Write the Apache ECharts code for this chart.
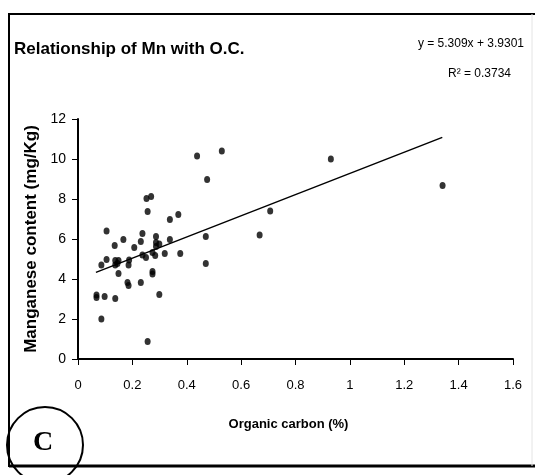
<!DOCTYPE html>
<html>
<head>
<meta charset="utf-8">
<script src="https://cdn.jsdelivr.net/npm/echarts@6/dist/echarts.min.js"></script>
<style>
  html, body { margin: 0; padding: 0; background: #fff; }
  #chart { width: 535px; height: 475px; }
</style>
</head>
<body>
<div id="chart"></div>
<script>
// Organic carbon (%) and manganese (mg/Kg)
const ocValues = [
    0.438, 0.529, 0.475, 0.252, 0.269, 0.256, 0.369, 0.338, 0.707, 0.668,
    0.105, 0.470, 0.167, 0.237, 0.231, 0.287, 0.135, 0.207, 0.287, 0.299,
    0.287, 0.338, 0.319, 0.376, 0.274, 0.284, 0.250, 0.237, 0.105, 0.137,
    0.149, 0.188, 0.086, 0.137, 0.186, 0.145, 0.149, 0.274, 0.274, 0.470,
    0.182, 0.186, 0.231, 0.068, 0.068, 0.098, 0.137, 0.299, 0.086, 0.256,
    0.930, 1.341
];
const mnValues = [
    10.15, 10.4, 8.98, 8.03, 8.12, 7.38, 7.22, 6.98, 7.4, 6.2,
    6.4, 6.12, 5.97, 6.28, 5.87, 6.12, 5.67, 5.58, 5.82, 5.75,
    5.62, 5.98, 5.28, 5.28, 5.32, 5.17, 5.08, 5.2, 4.98, 4.92,
    4.92, 4.95, 4.7, 4.7, 4.7, 4.78, 4.28, 4.37, 4.25, 4.78,
    3.82, 3.67, 3.82, 3.2, 3.08, 3.12, 3.02, 3.23, 2.0, 0.87,
    10.0, 8.67
];

// linear trendline end points
const trendX = [0.066, 1.34];
const trendY = [4.33, 11.08];

const xTicks = [0, 0.2, 0.4, 0.6, 0.8, 1, 1.2, 1.4, 1.6];
const yTicks = [0, 2, 4, 6, 8, 10, 12];

const chart = echarts.init(document.getElementById('chart'), null, { renderer: 'canvas' });

const option = {
    backgroundColor: '#fff',
    animation: false,
    title: {
        text: 'Relationship of Mn with O.C.',
        left: 9,
        top: 36,
        textStyle: {
            color: '#000',
            fontFamily: 'Liberation Sans, Arial, sans-serif',
            fontSize: 17,
            fontWeight: 'bold'
        }
    },
    grid: {
        left: 78,
        right: 22,
        top: 119,
        bottom: 116
    },
    xAxis: {
        type: 'value',
        min: xTicks[0],
        max: xTicks[xTicks.length - 1],
        interval: 0.2,
        name: 'Organic carbon (%)',
        nameLocation: 'middle',
        nameGap: 59,
        nameTextStyle: {
            color: '#000',
            fontFamily: 'Liberation Sans, Arial, sans-serif',
            fontSize: 13,
            fontWeight: 'bold',
            padding: [0, 14, 0, 0]
        },
        axisLine: { show: true, onZero: false, lineStyle: { color: '#000', width: 2 } },
        axisTick: { show: true, inside: false, length: 6, lineStyle: { color: '#000', width: 1 } },
        axisLabel: {
            color: '#000',
            fontFamily: 'Liberation Sans, Arial, sans-serif',
            fontSize: 13,
            margin: 20,
            formatter: v => String(v)
        },
        splitLine: { show: false }
    },
    yAxis: {
        type: 'value',
        min: yTicks[0],
        max: yTicks[yTicks.length - 1],
        interval: 2,
        name: 'Manganese content (mg/Kg)',
        nameLocation: 'middle',
        nameGap: 36,
        nameTextStyle: {
            color: '#000',
            fontFamily: 'Liberation Sans, Arial, sans-serif',
            fontSize: 17,
            fontWeight: 'bold'
        },
        axisLine: { show: true, onZero: false, lineStyle: { color: '#000', width: 2 } },
        axisTick: { show: true, inside: false, length: 6, lineStyle: { color: '#000', width: 1 } },
        axisLabel: {
            color: '#000',
            fontFamily: 'Liberation Sans, Arial, sans-serif',
            fontSize: 14,
            margin: 12
        },
        splitLine: { show: false }
    },
    series: [
        {
            name: 'Mn',
            type: 'scatter',
            symbol: 'circle',
            symbolSize: [6, 7],
            itemStyle: { color: '#000' },
            data: ocValues.map((x, i) => [x, mnValues[i]]),
            z: 3
        },
        {
            name: 'Trend',
            type: 'line',
            showSymbol: false,
            lineStyle: { color: '#000', width: 1.5 },
            data: trendX.map((x, i) => [x, trendY[i]]),
            z: 2
        }
    ],
    graphic: [
        // outer frame
        {
            type: 'polyline',
            shape: { points: [[535, 14], [9, 14], [9, 466], [535, 466]] },
            style: { stroke: '#000', lineWidth: 2, fill: null },
            silent: true
        },
        {
            type: 'line',
            shape: { x1: 9, y1: 466, x2: 535, y2: 466 },
            style: { stroke: '#000', lineWidth: 3 },
            silent: true
        },
        {
            type: 'line',
            shape: { x1: 532, y1: 14, x2: 532, y2: 466 },
            style: { stroke: '#e4e4e4', lineWidth: 1 },
            silent: true
        },
        // regression text
        {
            type: 'text',
            right: 11,
            top: 38,
            style: {
                text: 'y = 5.309x + 3.9301',
                fill: '#000',
                font: '12px "Liberation Sans", Arial, sans-serif'
            }
        },
        {
            type: 'text',
            left: 448,
            top: 68,
            style: {
                text: 'R² = 0.3734',
                fill: '#000',
                font: '12px "Liberation Sans", Arial, sans-serif'
            }
        },
        // panel label
        {
            type: 'circle',
            shape: { cx: 45, cy: 445, r: 38 },
            style: { stroke: '#000', lineWidth: 2, fill: null },
            silent: true
        },
        {
            type: 'text',
            x: 43,
            y: 443,
            style: {
                text: 'C',
                fill: '#000',
                font: 'bold 28px "Liberation Serif", "Times New Roman", serif',
                align: 'center',
                verticalAlign: 'middle'
            }
        }
    ]
};

chart.setOption(option);
</script>
</body>
</html>
